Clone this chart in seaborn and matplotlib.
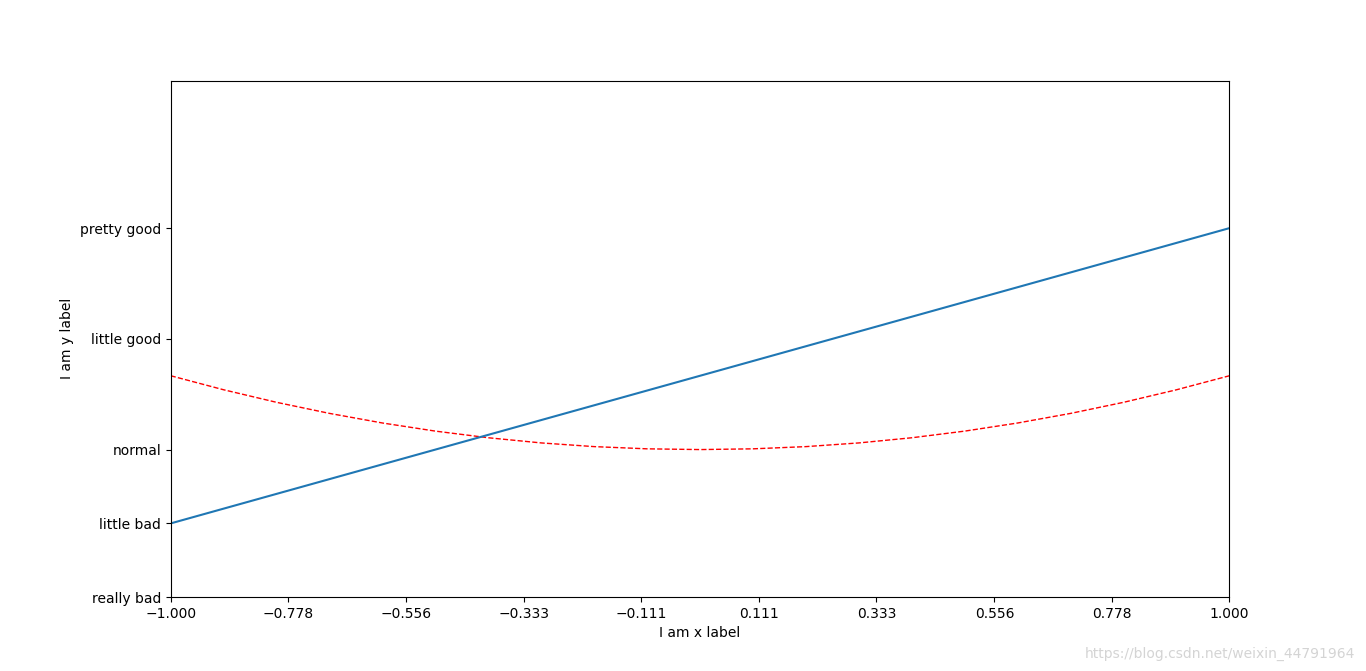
import numpy as np
import pandas as pd
import seaborn as sns
import matplotlib.pyplot as plt

# blue straight line (two end points)
line_x = [-1.0, 1.0]
line_y = [-1.0, 3.0]

# red dashed curve
curve_x = [-1.0, -0.9, -0.8, -0.7, -0.6, -0.5, -0.4, -0.3, -0.2, -0.1, 0.0,
           0.1, 0.2, 0.3, 0.4, 0.5, 0.6, 0.7, 0.8, 0.9, 1.0]
curve_y = [1.0, 0.81, 0.64, 0.49, 0.36, 0.25, 0.16, 0.09, 0.04, 0.01, 0.0,
           0.01, 0.04, 0.09, 0.16, 0.25, 0.36, 0.49, 0.64, 0.81, 1.0]

x_ticks = [-1.0, -0.778, -0.556, -0.333, -0.111, 0.111, 0.333, 0.556, 0.778, 1.0]
y_ticks = [-2, -1, 0, 1.5, 3]
y_labels = ['really bad', 'little bad', 'normal', 'little good', 'pretty good']

df1 = pd.DataFrame({"x": line_x, "y": line_y})
df2 = pd.DataFrame({"x": curve_x, "y": curve_y})

fig = plt.figure(figsize=(13.66, 6.71), dpi=100)
ax = fig.add_subplot(111)

sns.lineplot(data=df2, x="x", y="y", color='red', linewidth=1.0, linestyle='--',
             sort=False, estimator=None, ax=ax)
sns.lineplot(data=df1, x="x", y="y", color='#1f77b4', linewidth=1.5,
             sort=False, estimator=None, ax=ax)

ax.set_xlim(-1, 1)
ax.set_ylim(-2, 5)
ax.set_xlabel('I am x label')
ax.set_ylabel('I am y label')
ax.set_xticks(x_ticks)
ax.set_xticklabels(['%.3f' % v if v >= 0 else '\u2212%.3f' % -v for v in x_ticks])
ax.set_yticks(y_ticks)
ax.set_yticklabels(y_labels)

# watermark
fig.text(0.794, 0.02, 'https://blog.csdn.net/weixin_44791964', color='#d4d4d4', fontsize=10)

fig.savefig('out.png', dpi=100)
